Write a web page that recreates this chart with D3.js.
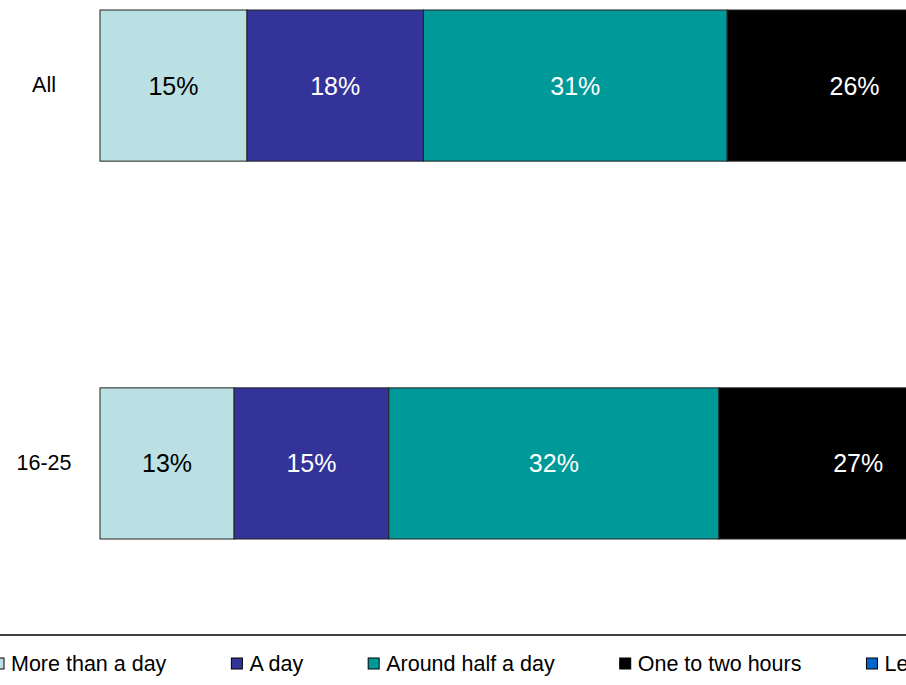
<!DOCTYPE html>
<html><head><meta charset="utf-8">
<script src="https://cdn.jsdelivr.net/npm/d3@7/dist/d3.min.js"></script>
<style>body{margin:0;background:#fff;overflow:hidden}svg{display:block}</style>
</head><body>
<script>
const categories = ["All", "16-25"];
const seriesNames = ["More than a day", "A day", "Around half a day", "One to two hours", "Less than an hour"];
const moreThanADay = [15, 13];
const aDay = [18, 15];
const aroundHalfADay = [31, 32];
const oneToTwoHours = [26, 27];
const lessThanAnHour = [10, 8];
const colors = ["#bbe0e3", "#333399", "#009999", "#000000", "#0066cc"];
const labelColors = ["#000", "#fff", "#fff", "#fff", "#fff"];

const W = 906, H = 685;
const svg = d3.select("body").append("svg").attr("width", W).attr("height", H)
  .style("font-family", "'Liberation Sans', Arial, sans-serif");

const seriesVals = [moreThanADay, aDay, aroundHalfADay, oneToTwoHours, lessThanAnHour];
const rows = categories.map((c, i) => {
  const o = {cat: c};
  seriesNames.forEach((s, j) => o[s] = seriesVals[j][i]);
  return o;
});
const stack = d3.stack().keys(seriesNames).offset(d3.stackOffsetExpand);
const layers = stack(rows);

const x = d3.scaleLinear().domain([0, 1]).range([100, 1080]);
const y = d3.scaleBand().domain(categories).range([10, 539]).paddingInner(0.6).paddingOuter(0);

const g = svg.append("g");
layers.forEach((layer, j) => {
  const lg = g.append("g");
  lg.selectAll("rect").data(layer).join("rect")
    .attr("x", d => x(d[0])).attr("y", d => y(d.data.cat))
    .attr("width", d => x(d[1]) - x(d[0])).attr("height", y.bandwidth())
    .attr("fill", colors[j]).attr("stroke", "#222").attr("stroke-width", 1);
  lg.selectAll("text").data(layer).join("text")
    .attr("x", d => (x(d[0]) + x(d[1])) / 2)
    .attr("y", d => y(d.data.cat) + y.bandwidth() / 2)
    .attr("text-anchor", "middle").attr("dominant-baseline", "central")
    .attr("font-size", 25).attr("fill", labelColors[j])
    .text(d => d.data[layer.key] + "%");
});

// category labels
const yAxis = d3.axisLeft(y).tickSize(0).tickPadding(0);
const ya = svg.append("g").attr("transform", "translate(44,0)").call(yAxis);
ya.select(".domain").remove();
ya.selectAll("text").attr("text-anchor", "middle").attr("font-size", 21.5)
  .attr("fill", "#000").attr("font-family", "'Liberation Sans', Arial, sans-serif");

// legend
svg.append("line").attr("x1", 0).attr("x2", W).attr("y1", 635).attr("y2", 635)
  .attr("stroke", "#000").attr("stroke-width", 1.5);
let lx = -7;
seriesNames.forEach((s, j) => {
  svg.append("rect").attr("x", lx).attr("y", 658).attr("width", 11).attr("height", 11)
    .attr("fill", colors[j]).attr("stroke", "#000").attr("stroke-width", 1);
  const t = svg.append("text").attr("x", lx + 18).attr("y", 664)
    .attr("dominant-baseline", "central").attr("font-size", 21.5).attr("fill", "#000").text(s);
  lx += 18 + t.node().getComputedTextLength() + 65;
});
</script>
</body></html>
